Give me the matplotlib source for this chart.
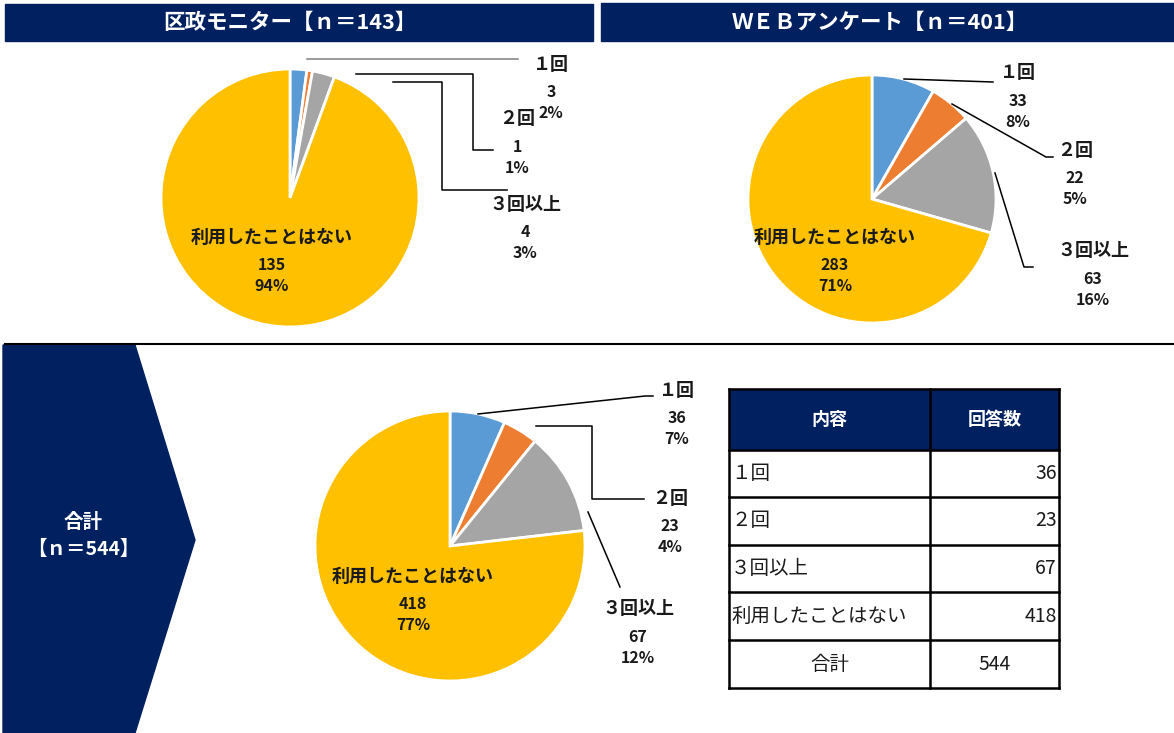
import matplotlib
matplotlib.use("Agg")
import matplotlib.pyplot as plt
from matplotlib.patches import Rectangle, Polygon

plt.rcParams['font.family'] = ['Noto Sans CJK JP', 'DejaVu Sans']

# data
categories = ['１回', '２回', '３回以上', '利用したことはない']
monitor_counts = [3, 1, 4, 135]
web_counts = [33, 22, 63, 283]
total_counts = [36, 23, 67, 418]
panel_titles = ['区政モニター【ｎ＝143】', 'ＷＥＢアンケート【ｎ＝401】']
total_title = ['合計', '【ｎ＝544】']
table_header = ['内容', '回答数']

colors = ['#5B9BD5', '#ED7D31', '#A5A5A5', '#FFC000']
navy = '#002060'

W, H = 1174, 733
fig = plt.figure(figsize=(W / 100, H / 100), dpi=100)

# layout in pixels: pie centre, radius, label anchors, leader lines
pies = [
    dict(counts=monitor_counts, cx=290, cy=198, r=129,
         labels=[(551, 64), (517, 119), (525, 204), (272, 237)],
         leaders=[[(307, 59), (518, 59)],
                  [(356, 74), (473, 74), (473, 150), (493, 150)],
                  [(393, 82), (442, 82), (442, 190), (507, 190)]]),
    dict(counts=web_counts, cx=872, cy=199, r=124,
         labels=[(1018, 73), (1075, 150), (1093, 251), (835, 237)],
         leaders=[[(904, 79), (993, 82)],
                  [(952, 104), (1046, 157), (1053, 157)],
                  [(995, 173), (1024, 267), (1033, 267)]]),
    dict(counts=total_counts, cx=450, cy=546, r=135,
         labels=[(677, 390), (670, 498), (638, 609), (413, 576)],
         leaders=[[(478, 414), (645, 396), (653, 396)],
                  [(536, 426), (592, 426), (592, 499), (644, 499)],
                  [(588, 512), (620, 587)]]),
]

for p in pies:
    r = p['r']
    ax = fig.add_axes([(p['cx'] - r) / W, (H - p['cy'] - r) / H, 2 * r / W, 2 * r / H])
    ax.pie(p['counts'], colors=colors, startangle=90, counterclock=False,
           wedgeprops=dict(edgecolor='white', linewidth=2))
    ax.set_xlim(-1, 1)
    ax.set_ylim(-1, 1)
    ax.set_aspect('auto')
    ax.axis('off')

ov = fig.add_axes([0, 0, 1, 1], zorder=10)
ov.set_xlim(0, W)
ov.set_ylim(H, 0)
ov.axis('off')
ov.patch.set_alpha(0)

# headers
ov.add_patch(Rectangle((5, 4), 588, 37, color=navy))
ov.add_patch(Rectangle((601, 3), 573, 38, color=navy))
ov.text(290, 22, panel_titles[0], color='white', fontsize=15.5, fontweight='bold', ha='center', va='center')
ov.text(880, 22, panel_titles[1], color='white', fontsize=15.5, fontweight='bold', ha='center', va='center')

# divider and chevron
ov.plot([5, W], [344, 344], color='black', lw=1.5)
ov.add_patch(Polygon([(3, 345), (135, 345), (195, 540), (135, 733), (3, 733)], closed=True, color=navy))
ov.text(83, 522, total_title[0], color='white', fontsize=14, fontweight='bold', ha='center', va='center')
ov.text(83, 549, total_title[1], color='white', fontsize=14, fontweight='bold', ha='center', va='center')

# pie labels and leader lines
for p in pies:
    total = sum(p['counts'])
    for i, (cat, v) in enumerate(zip(categories, p['counts'])):
        x, y = p['labels'][i]
        pct = round(v / total * 100)
        ov.text(x, y, cat, fontsize=13, fontweight='bold', ha='center', va='center', color='#1a1a1a')
        ov.text(x, y + 28, str(v), fontsize=11.5, fontweight='bold', ha='center', va='center', color='#1a1a1a')
        ov.text(x, y + 49, f'{pct}%', fontsize=11.5, fontweight='bold', ha='center', va='center', color='#1a1a1a')
    for j, line in enumerate(p['leaders']):
        xs = [pt[0] for pt in line]
        ys = [pt[1] for pt in line]
        c = '#7f7f7f' if (p is pies[0] and j == 0) else 'black'
        ov.plot(xs, ys, color=c, lw=1.1)

# table
col_x = [729, 930, 1059]
row_y = [389, 450, 497, 545, 592, 640, 688]
ov.add_patch(Rectangle((col_x[0], row_y[0]), col_x[2] - col_x[0], row_y[1] - row_y[0], color=navy))
ov.text((col_x[0] + col_x[1]) / 2, (row_y[0] + row_y[1]) / 2, table_header[0],
        color='white', fontsize=13, fontweight='bold', ha='center', va='center')
ov.text((col_x[1] + col_x[2]) / 2, (row_y[0] + row_y[1]) / 2, table_header[1],
        color='white', fontsize=13, fontweight='bold', ha='center', va='center')
for i, (cat, v) in enumerate(zip(categories, total_counts)):
    ym = (row_y[i + 1] + row_y[i + 2]) / 2
    ov.text(col_x[0] + 2, ym, cat, fontsize=14, ha='left', va='center', color='#1a1a1a')
    ov.text(col_x[2] - 2, ym, str(v), fontsize=14, ha='right', va='center', color='#1a1a1a')
ym = (row_y[5] + row_y[6]) / 2
ov.text((col_x[0] + col_x[1]) / 2, ym, '合計', fontsize=14, ha='center', va='center', color='#1a1a1a')
ov.text((col_x[1] + col_x[2]) / 2, ym, str(sum(total_counts)), fontsize=14, ha='center', va='center', color='#1a1a1a')
for y in row_y:
    ov.plot([col_x[0], col_x[2]], [y, y], color='black', lw=1.8)
for x in col_x:
    ov.plot([x, x], [row_y[0], row_y[-1]], color='black', lw=1.8)

fig.savefig('out.png', dpi=100)
